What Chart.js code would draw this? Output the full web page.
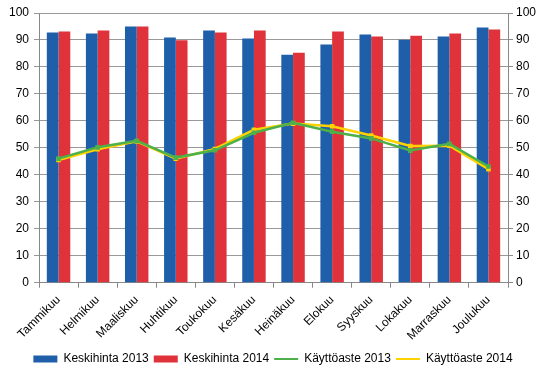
<!DOCTYPE html>
<html>
<head>
<meta charset="utf-8">
<script src="https://cdn.jsdelivr.net/npm/chart.js@4/dist/chart.umd.min.js"></script>
<style>
  html, body { margin: 0; padding: 0; background: #fff; }
  #wrap { width: 546px; height: 376px; }
</style>
</head>
<body>
<div id="wrap"><canvas id="chart"></canvas></div>
<script>
const months = ['Tammikuu', 'Helmikuu', 'Maaliskuu', 'Huhtikuu', 'Toukokuu', 'Kesäkuu',
    'Heinäkuu', 'Elokuu', 'Syyskuu', 'Lokakuu', 'Marraskuu', 'Joulukuu'];

const price2013 = [92.8, 92.4, 95.0, 90.9, 93.5, 90.5, 84.5, 88.3, 92.0, 90.1, 91.3, 94.6];
const price2014 = [93.1, 93.5, 95.0, 89.9, 92.8, 93.5, 85.3, 93.1, 91.3, 91.6, 92.4, 93.9];
const occupancy2013 = [46.0, 50.2, 52.6, 46.4, 49.1, 55.6, 59.3, 56.0, 53.5, 49.0, 51.5, 43.1];
const occupancy2014 = [45.5, 49.5, 52.4, 46.0, 49.6, 56.7, 59.0, 58.0, 54.6, 50.7, 50.8, 42.1];

const yTicks = [0, 10, 20, 30, 40, 50, 60, 70, 80, 90, 100];

Chart.defaults.font.family = '"Liberation Sans", Arial, sans-serif';
Chart.defaults.font.size = 12;
Chart.defaults.color = '#000';

window.addEventListener('load', () => {
    buildChart();
});

function buildChart() {
    const ctx = document.getElementById('chart').getContext('2d');
    const legendStyles = ['rect', 'rect', 'line', 'line'];

    new Chart(ctx, {
        data: {
            labels: months,
            datasets: [{
                type: 'bar',
                label: 'Keskihinta 2013',
                data: price2013,
                backgroundColor: '#1f5fa9',
                yAxisID: 'y',
                order: 1,
                categoryPercentage: 0.6,
                barPercentage: 1
            }, {
                type: 'bar',
                label: 'Keskihinta 2014',
                data: price2014,
                backgroundColor: '#e0323a',
                yAxisID: 'y',
                order: 1,
                categoryPercentage: 0.6,
                barPercentage: 1
            }, {
                type: 'line',
                label: 'Käyttöaste 2013',
                data: occupancy2013,
                borderColor: '#4eb04a',
                backgroundColor: '#4eb04a',
                borderWidth: 2.5,
                pointStyle: 'rect',
                pointRadius: 1.5,
                tension: 0,
                yAxisID: 'y2',
                order: 0
            }, {
                type: 'line',
                label: 'Käyttöaste 2014',
                data: occupancy2014,
                borderColor: '#ffd200',
                backgroundColor: '#ffd200',
                borderWidth: 2.5,
                pointStyle: 'rect',
                pointRadius: 1.5,
                tension: 0,
                yAxisID: 'y2',
                order: 0
            }]
        },
        options: {
            responsive: true,
            maintainAspectRatio: false,
            animation: false,
            layout: {
                padding: { top: 13, left: 0, right: 0, bottom: 1 }
            },
            plugins: {
                tooltip: { enabled: false },
                legend: {
                    position: 'bottom',
                    labels: {
                        usePointStyle: true,
                        pointStyleWidth: 24,
                        boxWidth: 24,
                        boxHeight: 7,
                        padding: 5,
                        font: { size: 12 },
                        generateLabels(chart) {
                            const items = Chart.defaults.plugins.legend.labels.generateLabels(chart);
                            items.sort((a, b) => a.datasetIndex - b.datasetIndex);
                            items.forEach(item => {
                                item.pointStyle = legendStyles[item.datasetIndex];
                                const ds = chart.data.datasets[item.datasetIndex];
                                if (ds.type === 'line') {
                                    item.lineWidth = 2;
                                    item.strokeStyle = ds.borderColor;
                                } else {
                                    item.lineWidth = 0;
                                }
                            });
                            return items;
                        }
                    }
                }
            },
            scales: {
                x: {
                    offset: true,
                    grid: {
                        offset: true,
                        drawOnChartArea: false,
                        drawTicks: true,
                        tickLength: 5,
                        color: '#888'
                    },
                    border: { color: '#888' },
                    ticks: {
                        minRotation: 45,
                        maxRotation: 45,
                        padding: 5,
                        font: { size: 12 }
                    }
                },
                y: {
                    position: 'left',
                    min: 0,
                    max: 100,
                    afterBuildTicks(axis) {
                        axis.ticks = yTicks.map(v => ({ value: v }));
                    },
                    afterFit(axis) {
                        axis.width = 39;
                    },
                    grid: {
                        color: '#999',
                        tickLength: 5
                    },
                    border: { color: '#888' },
                    ticks: { padding: 5 }
                },
                y2: {
                    position: 'right',
                    min: 0,
                    max: 100,
                    afterBuildTicks(axis) {
                        axis.ticks = yTicks.map(v => ({ value: v }));
                    },
                    afterFit(axis) {
                        axis.width = 38;
                    },
                    grid: {
                        drawOnChartArea: false,
                        color: '#888',
                        tickLength: 5
                    },
                    border: { color: '#888' },
                    ticks: { padding: 3 }
                }
            }
        }
    });
}
</script>
</body>
</html>
